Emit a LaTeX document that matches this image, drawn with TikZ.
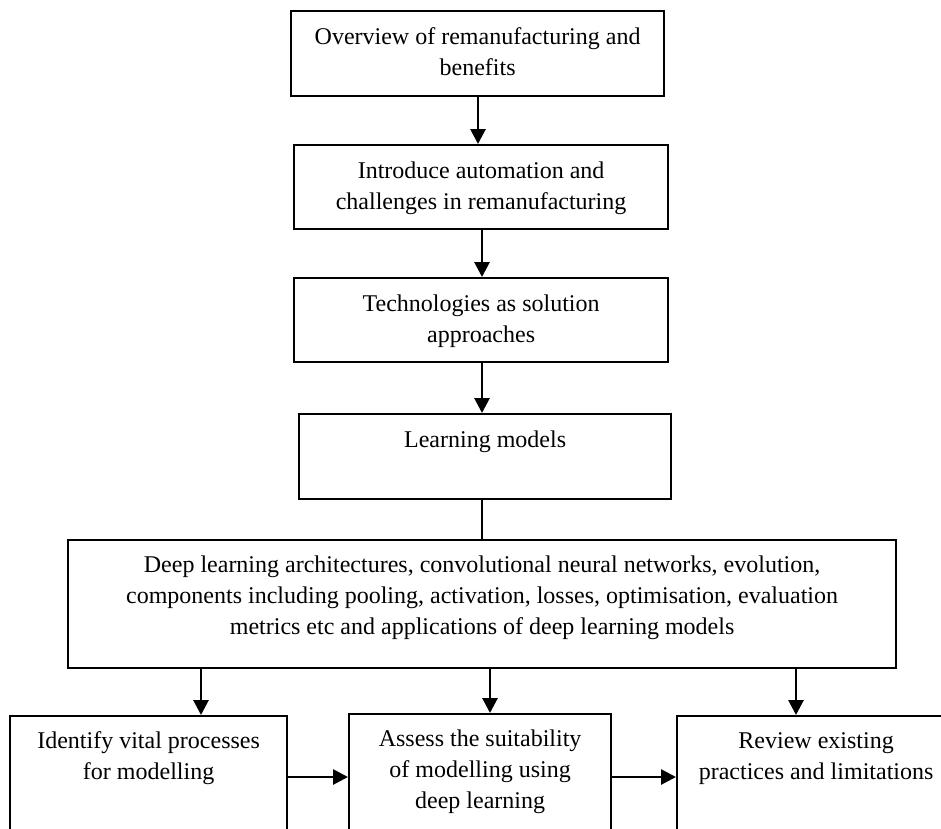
\documentclass[tikz,border=0pt]{standalone}
\usepackage{fontspec}
\setmainfont{Liberation Serif}
\usetikzlibrary{arrows.meta}
\newcommand\boxfont{\fontsize{24}{31}\selectfont}
\tikzset{
  stepbox/.style={draw, line width=2.2pt, inner sep=0pt, anchor=north west},
  lbl/.style={anchor=north, inner sep=0pt, align=center, font=\boxfont},
  arr/.style={line width=2.8pt, -{Triangle[length=15pt,width=15pt]}},
  link/.style={line width=2.8pt},
}
\begin{document}
\begin{tikzpicture}[x=1pt,y=-1pt]
  \useasboundingbox (0,0) rectangle (941,828);
  \clip (0,0) rectangle (941,828);

  % process boxes
  \node[stepbox, minimum width=373pt, minimum height=85pt] (b1) at (290,10) {};
  \node[stepbox, minimum width=374pt, minimum height=84pt] (b2) at (293,144) {};
  \node[stepbox, minimum width=374pt, minimum height=84pt] (b3) at (293,277) {};
  \node[stepbox, minimum width=372pt, minimum height=85pt] (b4) at (298,413) {};
  \node[stepbox, minimum width=828pt, minimum height=128pt] (b5) at (67,539) {};
  \node[stepbox, minimum width=277pt, minimum height=140pt] (b6) at (9,715) {};
  \node[stepbox, minimum width=262pt, minimum height=140pt] (b7) at (348,713) {};
  \node[stepbox, minimum width=278pt, minimum height=140pt] (b8) at (676,715) {};

  % box texts
  \node[lbl] (t1) at ([yshift=-12.3pt]b1.north) {\strut Overview of remanufacturing and\\benefits};
  \node[lbl] (t2) at ([yshift=-12.3pt]b2.north) {\strut Introduce automation and\\challenges in remanufacturing};
  \node[lbl] (t3) at ([yshift=-12.3pt]b3.north) {\strut Technologies as solution\\approaches};
  \node[lbl] (t4) at ([yshift=-12.3pt]b4.north) {\strut Learning models};
  \node[lbl] (t5) at ([yshift=-11.3pt]b5.north) {\strut Deep learning architectures, convolutional neural networks, evolution,\\components including pooling, activation, losses, optimisation, evaluation\\metrics etc and applications of deep learning models};
  \node[lbl] (t6) at ([yshift=-11.3pt]b6.north) {\strut Identify vital processes\\for modelling};
  \node[lbl] (t7) at ([yshift=-11.3pt]b7.north) {\strut Assess the suitability\\of modelling using\\deep learning};
  \node[lbl] (t8) at ([yshift=-11.3pt]b8.north) {\strut Review existing\\practices and limitations};

  % horizontal and vertical positions of the connectors
  \coordinate (xa) at (478,0);
  \coordinate (xb) at (482,0);
  \coordinate (xc) at (201,0);
  \coordinate (xd) at (490,0);
  \coordinate (xe) at (796,0);
  \coordinate (yr) at (0,777);

  \draw[arr] (xa |- b1.south) -- (xa |- b2.north);
  \draw[arr] (xb |- b2.south) -- (xb |- b3.north);
  \draw[arr] (xb |- b3.south) -- (xb |- b4.north);
  \draw[link] (xb |- b4.south) -- (xb |- b5.north);
  \draw[arr] (xc |- b5.south) -- (xc |- b6.north);
  \draw[arr] (xd |- b5.south) -- (xd |- b7.north);
  \draw[arr] (xe |- b5.south) -- (xe |- b8.north);
  \draw[arr] (b6.east |- yr) -- (b7.west |- yr);
  \draw[arr] (b7.east |- yr) -- (b8.west |- yr);
\end{tikzpicture}
\end{document}
